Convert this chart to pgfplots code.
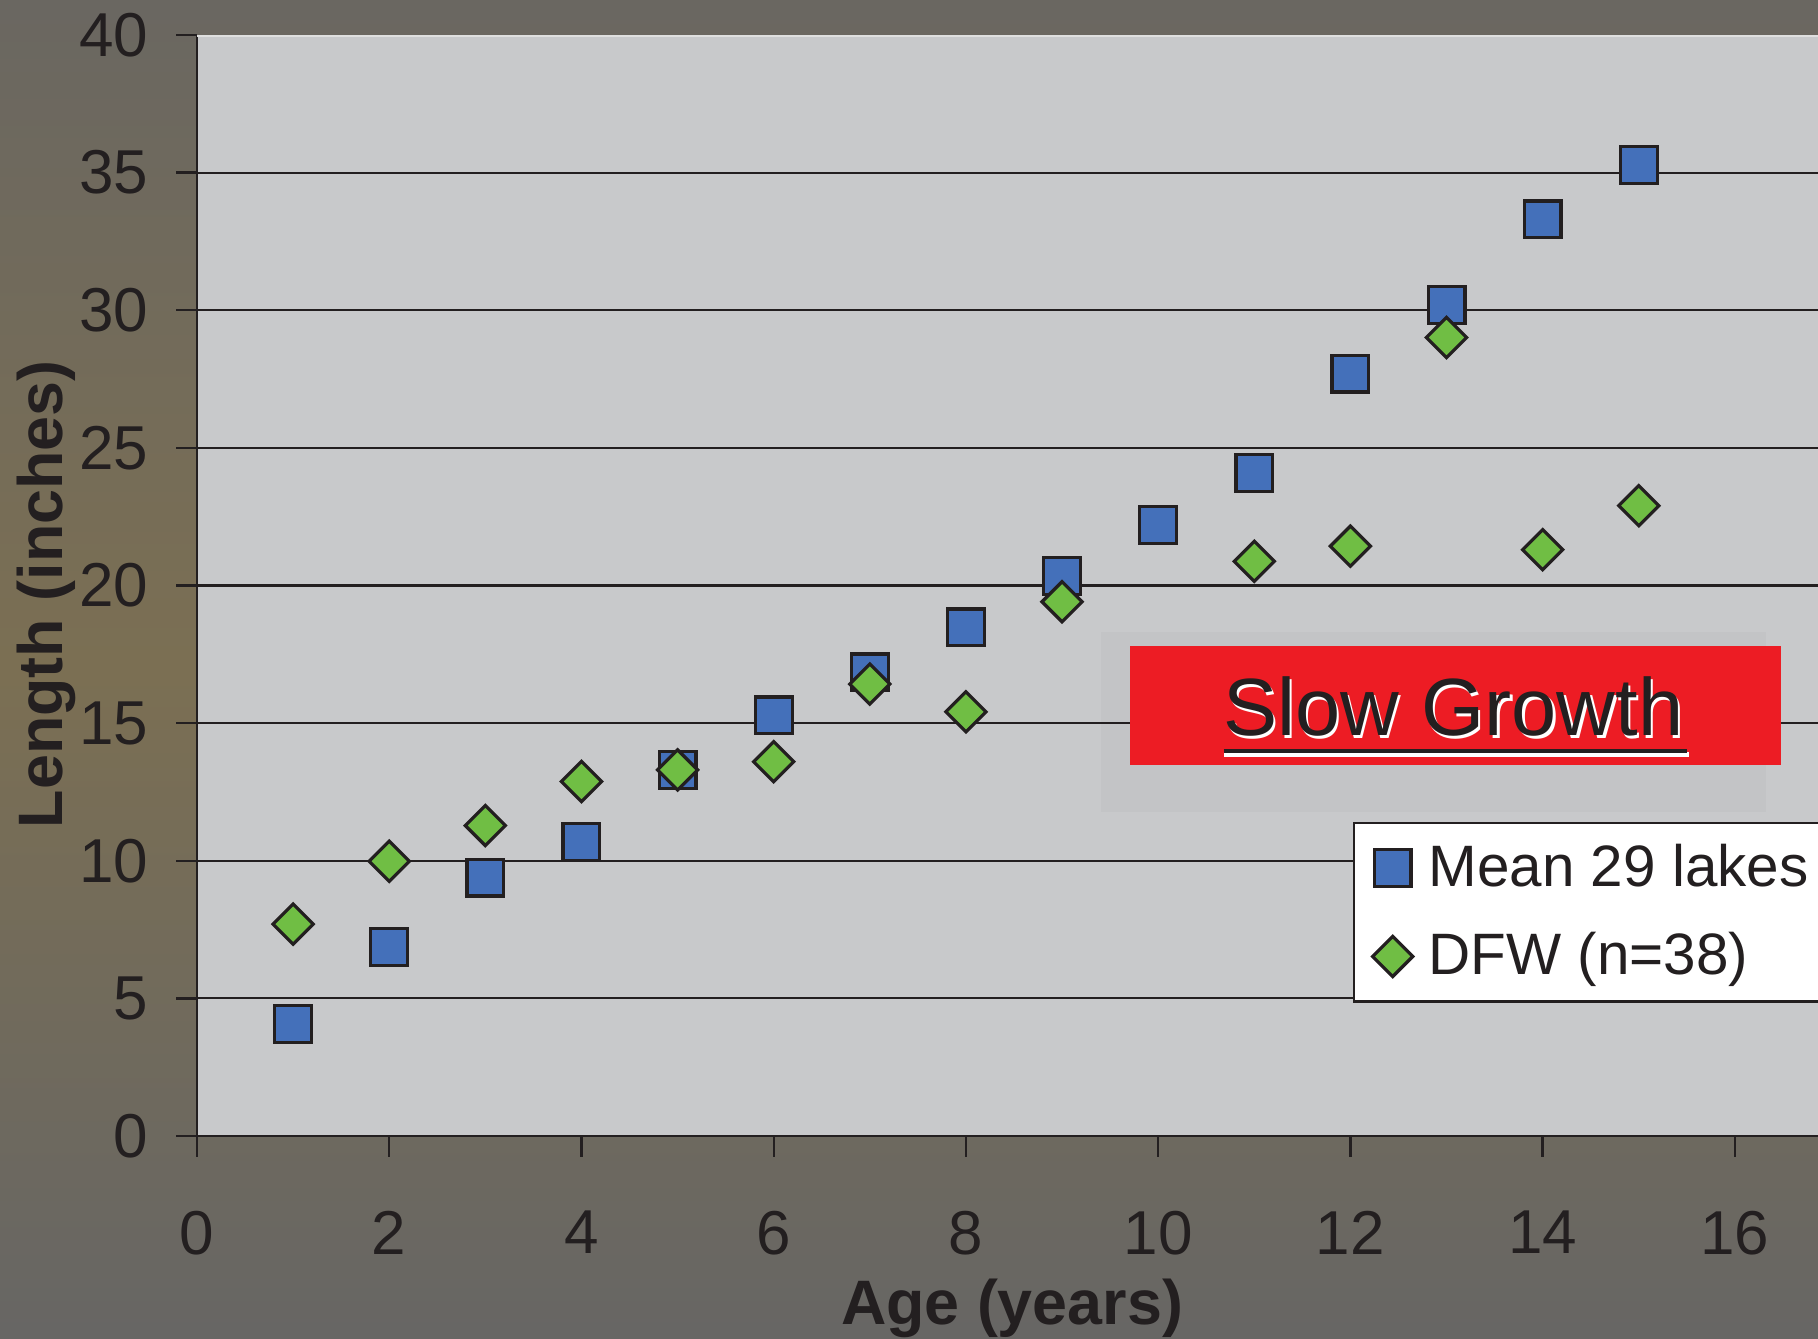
\documentclass[border=0pt]{standalone}
\usepackage{pgfplots}
\pgfplotsset{compat=1.18}
\usepackage{fontspec}
\setmainfont{Liberation Sans}
\definecolor{bgtop}{HTML}{6A6761}
\definecolor{bgmid}{HTML}{7B6F53}
\definecolor{bgbot}{HTML}{676664}
\definecolor{plotbg}{HTML}{C8C9CB}
\definecolor{txt}{HTML}{231F20}
\definecolor{sqblue}{HTML}{4470BA}
\definecolor{dmgreen}{HTML}{70BE44}
\definecolor{slowred}{HTML}{ED1C24}
\begin{document}
\begin{tikzpicture}
\shade[top color=bgtop, bottom color=bgbot, middle color=bgmid] (0,0) rectangle (454.5pt,334.5pt);
\useasboundingbox (0,0) rectangle (454.5pt,334.5pt);
\begin{axis}[
  at={(49.25pt,50.5pt)}, anchor=south west,
  scale only axis, width=408.5pt, height=275.25pt,
  xmin=0, xmax=17, ymin=0, ymax=40,
  xtick={0,2,...,16}, ytick={0,5,...,35},
  extra y ticks={40}, extra tick style={grid=none},
  axis x line*=bottom, axis y line*=left,
  axis line style={txt, line width=0.7pt},
  axis background/.style={fill=plotbg},
  ymajorgrids, grid style={txt, line width=0.55pt},
  tick align=outside, major tick length=5.2pt,
  tick style={txt, line width=0.6pt},
  /pgf/number format/assume math mode=true,
  ticklabel style={font=\fontsize{15.5}{18}\selectfont, text=txt},
  yticklabel style={xshift=-3.5pt},
  xticklabel style={yshift=-10pt},
  xlabel={Age (years)},
  xlabel style={font=\fontsize{15.7}{18}\selectfont\bfseries, text=txt, at={(axis description cs:0.4988,-0.157)}, anchor=center},
  ylabel={Length (inches)},
  ylabel style={font=\fontsize{15.7}{18}\selectfont\bfseries, text=txt, at={(axis description cs:-0.0922,0.492)}, anchor=center},
  legend style={at={(axis description cs:0.7075,0.2852)}, anchor=north west, draw=txt, fill=white, line width=0.6pt,
    font=\fontsize{14.6}{17}\selectfont, text=txt, inner xsep=3pt, inner ysep=3.2pt, row sep=6pt},
  legend cell align=left,
  legend image code/.code={\path (0pt,0pt) (13pt,0pt); \draw[#1] plot coordinates {(6.3pt,0pt)};},
]
\fill[black, fill opacity=0.025] (axis cs:9.41,11.77) rectangle (axis cs:16.32,18.31);
\draw[white!75!gray, line width=0.8pt] (rel axis cs:0,1) -- (rel axis cs:1,1);

\addplot[only marks, mark=square*, mark size=4.6pt, mark options={fill=sqblue, draw=txt, line width=0.8pt}]
  coordinates {(1,4.08)(2,6.86)(3,9.39)(4,10.69)(5,13.3)(6,15.28)(7,16.84)(8,18.48)(9,20.34)(10,22.19)(11,24.08)(12,27.7)(13,30.19)(14,33.3)(15,35.28)};
\addlegendentry{Mean 29 lakes}
\addplot[only marks, mark=square*, mark size=3.55pt, mark options={rotate=45, fill=dmgreen, draw=txt, line width=0.8pt}]
  coordinates {(1,7.7)(2,9.98)(3,11.28)(4,12.88)(5,13.3)(6,13.6)(7,16.42)(8,15.41)(9,19.41)(11,20.88)(12,21.43)(13,29.01)(14,21.3)(15,22.9)};
\addlegendentry{DFW (n=38)}

\fill[slowred] (axis cs:9.71,13.48) rectangle (axis cs:16.48,17.80);
\node[white, font=\fontsize{20.3}{24}\selectfont] at ([xshift=0.6pt,yshift=-0.7pt]axis cs:13.07,15.59) {Slow Growth};
\node[txt, font=\fontsize{20.3}{24}\selectfont] at (axis cs:13.07,15.59) {Slow Growth};
\draw[white, line width=1.2pt] ([yshift=-0.8pt]axis cs:10.68,13.99) -- ([yshift=-0.8pt]axis cs:15.52,13.99);
\draw[txt, line width=1.2pt] (axis cs:10.68,13.99) -- (axis cs:15.5,13.99);
\end{axis}
\end{tikzpicture}
\end{document}
